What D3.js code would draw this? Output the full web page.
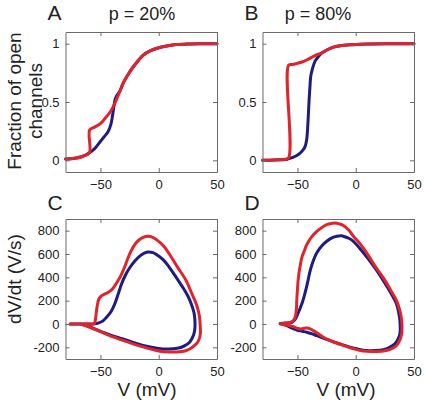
<!DOCTYPE html>
<html>
<head>
<meta charset="utf-8">
<script src="https://cdn.jsdelivr.net/npm/d3@7"></script>
<style>
  html, body { margin: 0; padding: 0; background: #fff; }
  svg { display: block; }
  text { font-family: "Liberation Sans", Arial, Helvetica, sans-serif; fill: #222; }
</style>
</head>
<body>
<script>
// ---------------- DATA ----------------
const xTicks = [-50, 0, 50];
const yTicksOpen = [0, 0.5, 1];
const yTicksOpenLabels = ["0", "0.5", "1"];
const yTicksRate = [-200, 0, 200, 400, 600, 800];

// Panel A (p = 20%): fraction of open channels vs V
const openA_blue = [[-80,0.012],[-72,0.018],[-65,0.035],[-59.5,0.065],[-55,0.1],[-50.6,0.155],[-47,0.2],[-43.5,0.245],[-41,0.31],[-39.7,0.38],[-38.5,0.46],[-37.5,0.52],[-36.3,0.55],[-33,0.6],[-30.6,0.66],[-26,0.74],[-22,0.8],[-18,0.85],[-13.5,0.9],[-7,0.94],[0,0.965],[8,0.982],[15,0.992],[25,0.998],[35,1],[50,1]];
const openA_red = [[-80,0.012],[-72,0.018],[-65,0.035],[-59.5,0.065],[-59.3,0.26],[-55,0.285],[-50.6,0.31],[-46,0.36],[-42,0.41],[-39,0.46],[-36.3,0.52],[-33,0.6],[-30.6,0.66],[-26,0.74],[-22,0.8],[-18,0.85],[-13.5,0.9],[-7,0.94],[0,0.965],[8,0.982],[15,0.992],[25,0.998],[35,1],[50,1]];

// Panel B (p = 80%)
const openB_blue = [[-80,0],[-70,0.003],[-59,0.01],[-54,0.025],[-49.2,0.05],[-45.5,0.085],[-43.4,0.12],[-42.2,0.17],[-41.5,0.24],[-40.7,0.38],[-40,0.52],[-39.3,0.63],[-38.6,0.72],[-37,0.79],[-34.9,0.85],[-32,0.89],[-29.2,0.92],[-24,0.95],[-19.2,0.97],[-12,0.985],[-5,0.99],[10,0.998],[30,1],[50,1]];
const openB_red = [[-80,0],[-70,0.003],[-62,0.008],[-57.7,0.02],[-57.6,0.815],[-54,0.822],[-50.6,0.83],[-46,0.843],[-42,0.86],[-37.5,0.885],[-33.4,0.905],[-29.2,0.92],[-24,0.95],[-19.2,0.97],[-12,0.985],[-5,0.99],[10,0.998],[30,1],[50,1]];

// Panel C (p = 20%): dV/dt vs V
const phaseC_blue = [[-76,0],[-68,0],[-60,0],[-55,2],[-52,8],[-48,25],[-44.9,57],[-41,105],[-37.8,170],[-35,250],[-32,340],[-28.5,420],[-24.9,482],[-20.5,540],[-16.3,582],[-12,610],[-9,618],[-5,612],[-2,596],[4,550],[9.4,482],[15,400],[20.8,312],[25,240],[28,170],[30.2,100],[31,40],[30.8,-57],[29,-115],[26.5,-156],[22,-188],[17.9,-204],[12,-212],[6.5,-215],[0,-210],[-6,-200],[-13.5,-184],[-22,-158],[-30.6,-128],[-40,-100],[-47.8,-71],[-55,-42],[-62,-14],[-66,-4],[-68,0]];
const phaseC_red = [[-76,0],[-68,0],[-60,0],[-55.5,2],[-54.3,40],[-53.4,113],[-52.5,170],[-51.5,210],[-49.2,241],[-46,258],[-43.5,270],[-40.5,292],[-37.8,326],[-35,370],[-32,426],[-29,495],[-26.3,568],[-23.5,630],[-20.6,681],[-17,720],[-13.5,743],[-9.2,752],[-5.5,745],[-2,723],[4,670],[9.4,596],[16,490],[23.7,369],[28,270],[32.3,170],[34.5,90],[35.3,28],[35.7,-85],[34.5,-135],[32.3,-170],[28,-205],[23.7,-227],[18,-238],[12.2,-241],[5,-237],[-2,-227],[-12,-200],[-22,-170],[-32,-136],[-42,-100],[-50,-65],[-59.2,-28],[-64,-10],[-67,0]];

// Panel D (p = 80%)
const phaseD_blue = [[-64.8,4],[-60,8],[-54.8,14],[-52,40],[-49.2,100],[-46,180],[-43.4,270],[-41,370],[-39.2,454],[-36.5,540],[-33.4,610],[-29,670],[-24.9,709],[-20,740],[-16.3,752],[-12,756],[-10.6,752],[-6,735],[-2,709],[5,630],[12.2,539],[20,430],[26.5,326],[31,250],[35.1,170],[37,90],[37.9,28],[37.9,-85],[36,-135],[33.6,-170],[29,-200],[23.6,-221],[16,-228],[9.4,-227],[2,-215],[-4.9,-199],[-13,-172],[-22,-142],[-28,-120],[-33.4,-100],[-38,-83],[-42,-71],[-46,-62],[-50.6,-51],[-55,-33],[-59.1,-14],[-62,-4],[-64.8,4]];
const phaseD_red = [[-64.8,0],[-60,8],[-56.3,14],[-53.5,30],[-52,57],[-51,120],[-50.6,198],[-50,300],[-49.2,397],[-48,480],[-46.3,567],[-44,630],[-42,681],[-38,745],[-33.4,794],[-29,828],[-24.9,851],[-21,862],[-17.8,865],[-14,858],[-10.6,845],[-6,805],[-2,752],[4,685],[9.4,610],[16,505],[23.6,397],[30,290],[35.1,199],[38,110],[39.4,28],[39.4,-85],[37.5,-145],[35.1,-184],[30,-215],[23.6,-232],[15,-236],[6.5,-232],[-2,-212],[-10.6,-184],[-20,-150],[-27.8,-113],[-33,-78],[-36.3,-57],[-39,-42],[-42,-34],[-45,-38],[-47.7,-43],[-50,-37],[-53.5,-23],[-58,-10],[-63.4,0]];

const panelLetters = ["A", "B", "C", "D"];
const panelTitles = ["p = 20%", "p = 80%"];
const yLabelOpen = ["Fraction of open", "channels"];
const yLabelRate = "dV/dt (V/s)";
const xLabel = "V (mV)";

// ---------------- LAYOUT ----------------
const W = 425, H = 404;
const RED = "#e0242b", BLUE = "#1e1b82", AXIS = "#6a6a6a";
const svg = d3.select("body").append("svg").attr("width", W).attr("height", H);

const colX = [65.5, 262.5], colW = 151.5;
const rowY = [32, 219], rowH = 140;

const panels = [
  {col:0,row:0, ydom:[-0.1,1.1], yt:yTicksOpen, ytl:yTicksOpenLabels, blue:openA_blue, red:openA_red},
  {col:1,row:0, ydom:[-0.1,1.1], yt:yTicksOpen, ytl:yTicksOpenLabels, blue:openB_blue, red:openB_red},
  {col:0,row:1, ydom:[-300,900], yt:yTicksRate, ytl:yTicksRate.map(String), blue:phaseC_blue, red:phaseC_red},
  {col:1,row:1, ydom:[-300,900], yt:yTicksRate, ytl:yTicksRate.map(String), blue:phaseD_blue, red:phaseD_red},
];

panels.forEach((p, i) => {
  const x0 = colX[p.col], y0 = rowY[p.row];
  const xs = d3.scaleLinear().domain([-80, 50]).range([x0, x0 + colW]);
  const ys = d3.scaleLinear().domain(p.ydom).range([y0 + rowH, y0]);
  const g = svg.append("g");

  const line = d3.line().x(d => xs(d[0])).y(d => ys(d[1])).curve(d3.curveCatmullRom.alpha(0.5));

  g.append("path").attr("d", line(p.blue)).attr("fill", "none").attr("stroke", BLUE)
    .attr("stroke-width", 3).attr("stroke-linejoin", "round").attr("stroke-linecap", "round");
  g.append("path").attr("d", line(p.red)).attr("fill", "none").attr("stroke", RED)
    .attr("stroke-width", 3).attr("stroke-linejoin", "round").attr("stroke-linecap", "round");

  // axes (MATLAB-like box, inward ticks)
  const bottom = g.append("g").attr("transform", `translate(0,${y0 + rowH})`)
    .call(d3.axisBottom(xs).tickValues(xTicks).tickSizeInner(-4).tickSizeOuter(0).tickPadding(8));
  const top = g.append("g").attr("transform", `translate(0,${y0})`)
    .call(d3.axisTop(xs).tickValues(xTicks).tickSizeInner(-4).tickSizeOuter(0).tickFormat(""));
  const left = g.append("g").attr("transform", `translate(${x0},0)`)
    .call(d3.axisLeft(ys).tickValues(p.yt).tickSizeInner(-4).tickSizeOuter(0).tickPadding(6)
      .tickFormat((d, k) => p.ytl[k]));
  const right = g.append("g").attr("transform", `translate(${x0 + colW},0)`)
    .call(d3.axisRight(ys).tickValues(p.yt).tickSizeInner(-4).tickSizeOuter(0).tickFormat(""));
  [bottom, top, left, right].forEach(a => {
    a.selectAll(".domain").attr("stroke", AXIS).attr("stroke-width", 1);
    a.selectAll(".tick line").attr("stroke", AXIS);
    a.selectAll("text").attr("font-size", 13).attr("fill", "#222")
      .attr("font-family", '"Liberation Sans", Arial, sans-serif');
  });

  // panel letter
  svg.append("text").attr("x", x0 - 18).attr("y", y0 - (p.row === 0 ? 12 : 9))
    .attr("font-size", 21).attr("text-anchor", "start").text(panelLetters[i]);
});

// titles
panelTitles.forEach((t, c) => {
  svg.append("text").attr("x", c === 0 ? 142 : 318).attr("y", 20)
    .attr("font-size", 18).attr("text-anchor", "middle").text(t);
});

// y labels
svg.append("text").attr("transform", "translate(21,101) rotate(-90)")
  .attr("font-size", 19).attr("text-anchor", "middle").text(yLabelOpen[0]);
svg.append("text").attr("transform", "translate(42,101) rotate(-90)")
  .attr("font-size", 19).attr("text-anchor", "middle").text(yLabelOpen[1]);
svg.append("text").attr("transform", "translate(21,279) rotate(-90)")
  .attr("font-size", 19).attr("text-anchor", "middle").text(yLabelRate);

// x labels
[147, 346].forEach(cx => {
  svg.append("text").attr("x", cx).attr("y", 396).attr("font-size", 19)
    .attr("text-anchor", "middle").text(xLabel);
});
</script>
</body>
</html>
